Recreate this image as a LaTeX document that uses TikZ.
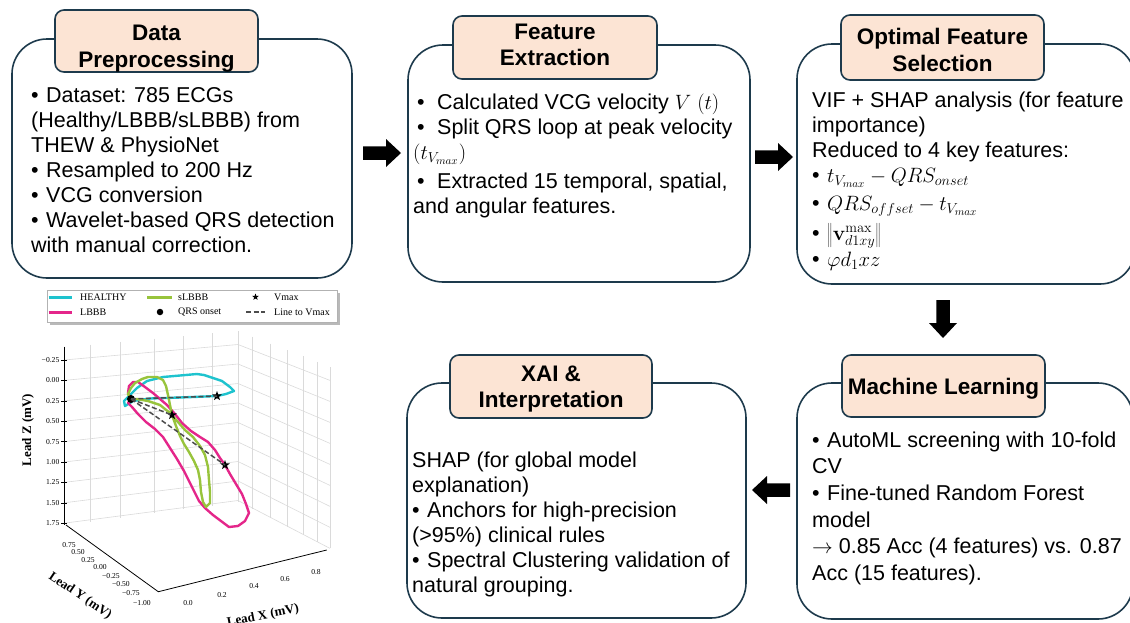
\documentclass[tikz,border=0pt]{standalone}
\usepackage[no-math]{fontspec}
\setmainfont{Liberation Sans}
\newfontfamily\plotserif{Liberation Serif}
\usetikzlibrary{shapes.geometric,calc}
\definecolor{edge}{HTML}{1D3A4C}
\definecolor{peach}{HTML}{FCE4D4}
\definecolor{healthy}{HTML}{1EC3CE}
\definecolor{lbbb}{HTML}{E4268A}
\definecolor{slbbb}{HTML}{98C43C}
\definecolor{gridc}{HTML}{DADADA}
\newcommand{\mybul}{\makebox[15pt][l]{•}}
\newcommand{\mybulb}{\makebox[24pt][l]{\hspace{4pt}•}}
\tikzset{
  outerbox/.style={draw=edge, line width=1.6pt, rounded corners=35pt, fill=white, inner sep=0pt},
  headbox/.style={draw=edge, line width=1.6pt, rounded corners=9pt, fill=peach, inner sep=0pt},
  headtext/.style={anchor=north, inner sep=0pt, align=center, font=\bfseries\fontsize{22.5}{26.5}\selectfont},
  bodytext/.style={anchor=north west, inner sep=0pt, align=left, font=\fontsize{21.5}{25}\selectfont},
  blockarrow/.pic={\fill[black] (-19,-6.75) -- (4,-6.75) -- (4,-14) -- (19,0) -- (4,14) -- (4,6.75) -- (-19,6.75) -- cycle;},
  gridline/.style={gridc, line width=0.6pt},
  axisline/.style={black, line width=0.8pt},
  curve/.style={line width=2.4pt, line join=round, line cap=round},
  dashline/.style={black!70, line width=1.5pt, dash pattern=on 5pt off 2.5pt},
  starmark/.style={star, star points=5, star point ratio=2.4, fill=black, inner sep=0pt, minimum size=#1},
  starmark/.default=10pt,
  legtext/.style={anchor=west, inner sep=0pt, font=\plotserif\fontsize{10}{12}\selectfont},
  ticklab/.style={inner sep=0pt, font=\plotserif\fontsize{7.6}{9}\selectfont},
  axlab/.style={inner sep=0pt, font=\plotserif\bfseries\fontsize{13}{16}\selectfont}
}
\begin{document}
\lineskiplimit=-100pt\relax
\begin{tikzpicture}[x=1pt,y=-1pt]
\useasboundingbox (0,0) rectangle (1130,622);
\clip (0,0) rectangle (1130,622);

% ---------- outer boxes ----------
\node[outerbox, minimum width=340pt, minimum height=239pt] (b1) at (182,158.5) {};
\node[outerbox, minimum width=342pt, minimum height=237pt] (b2) at (579,163.5) {};
\node[outerbox, minimum width=338pt, minimum height=240pt] (b3) at (966,164) {};
\node[outerbox, minimum width=336pt, minimum height=236pt] (b4) at (965,501) {};
\node[outerbox, minimum width=339pt, minimum height=235pt] (b5) at (576.5,500.5) {};

% ---------- header boxes ----------
\node[headbox, minimum width=203pt, minimum height=62pt] (h1) at (156.5,41) {};
\node[headbox, minimum width=204pt, minimum height=63pt] (h2) at (555,47.5) {};
\node[headbox, minimum width=203pt, minimum height=65pt] (h3) at (942.5,47.5) {};
\node[headbox, minimum width=203pt, minimum height=62pt] (h4) at (943.5,386) {};
\node[headbox, minimum width=202pt, minimum height=63pt] (h5) at (551,386.5) {};

\node[headtext] (t1) at (156.5,22) {\strut Data\\Preprocessing};
\node[headtext] (t2) at (555,20.5) {\strut Feature\\Extraction};
\node[headtext] (t3) at (942.5,26) {\strut Optimal Feature\\Selection};
\node[headtext] (t4) at (943.5,375.5) {\strut Machine Learning};
\node[headtext] (t5) at (551,362.5) {\strut XAI \&\\Interpretation};

% ---------- body texts ----------
\node[bodytext] (x1) at (31,84.5) {\strut\mybul Dataset: 785 ECGs\\
(Healthy/LBBB/sLBBB) from\\
THEW \& PhysioNet\\
\mybul Resampled to 200 Hz\\
\mybul VCG conversion\\
\mybul Wavelet-based QRS detection\\
with manual correction.};

\node[bodytext] (x2) at (413,91.5) {\strut\mybulb Calculated VCG velocity $V\ (t)$\\
\mybulb Split QRS loop at peak velocity\\
$(t_{V_{max}})$\\[4pt]
\mybulb Extracted 15 temporal, spatial,\\
and angular features.};

\node[bodytext] (x3) at (812,89.5) {\strut VIF + SHAP analysis (for feature\\
importance)\\
Reduced to 4 key features:\\
\mybul $t_{V_{max}} - QRS_{onset}$\\[3pt]
\mybul $QRS_{offset} - t_{V_{max}}$\\[5pt]
\mybul $\left\|\mathbf{v}^{\max}_{d1xy}\right\|$\\[1pt]
\mybul $\varphi d_1 xz$};

\node[bodytext] (x4) at (812,429.5) {\strut\mybul AutoML screening with 10-fold\\[1.6pt]
CV\\[1.6pt]
\mybul Fine-tuned Random Forest\\[1.6pt]
model\\[1.6pt]
$\rightarrow$ 0.85 Acc (4 features) vs. 0.87\\[1.6pt]
Acc (15 features).};

\node[bodytext] (x5) at (412,449.5) {\strut SHAP (for global model\\
explanation)\\
\mybul Anchors for high-precision\\
(>95\%) clinical rules\\
\mybul Spectral Clustering validation of\\
natural grouping.};

% ---------- block arrows ----------
\pic (a1) at (382,153) {blockarrow};
\pic (a2) at (774,157) {blockarrow};
\pic[rotate=-90] (a3) at (943,319) {blockarrow};
\pic[rotate=180] (a4) at (771,490) {blockarrow};

% ---------- 3D plot: panes grid ----------
\foreach \z in {-0.25,0,0.25,0.5,0.75,1,1.25,1.5,1.75}{
  \draw[gridline] (64,{380.4+81.6*\z}) -- (238,{364+78*\z}) -- (330,{401.4+84*\z});
}
\foreach \xa/\ya/\yb in {90/344.6/521.8, 120/341.9/517.8, 154/338.7/513.2, 183/336.1/509.4, 212/333.4/505.5, 238/331/502}{
  \draw[gridline] (\xa,\ya) -- (\xa,\yb);
}
\foreach \xa/\ya/\yb in {252/336.5/509, 270/343.5/518, 287/350.2/526.5, 303/356.4/534.5, 317/361.9/541.5, 330/367/548}{
  \draw[gridline] (\xa,\ya) -- (\xa,\yb);
}

% axes
\draw[axisline] (64,346.7) -- (64,525);
\draw[axisline] (66,525) -- (158.3,591.7) -- (326.7,550);
\foreach \lab/\yy [count=\i] in {−0.25/360, 0.00/380.4, 0.25/400.8, 0.50/421.2, 0.75/441.6, 1.00/462, 1.25/482.4, 1.50/502.8, 1.75/523.2}{
  \draw[axisline, line width=0.6pt] (61,\yy) -- (67,\yy);
  \node[ticklab, anchor=east] (zt\i) at (59.5,\yy) {\lab};
}
\foreach \lab/\xx/\yy [count=\i] in {0.75/69/545, 0.50/78/552, 0.25/88/560, 0.00/100/567, −0.25/111/576, −0.50/121/584, −0.75/131/593, −1.00/142/603}{
  \node[ticklab] (yt\i) at (\xx,\yy) {\lab};
}
\foreach \lab/\xx/\yy [count=\i] in {0.0/188/603, 0.2/222/595, 0.4/254/586.5, 0.6/285/579, 0.8/316/572}{
  \node[ticklab] (xt\i) at (\xx,\yy) {\lab};
}
\node[axlab, rotate=90] (zlab) at (28,430) {Lead Z (mV)};
\node[axlab, rotate=-34] (ylab) at (80,596) {Lead Y (mV)};
\node[axlab, rotate=11] (xlab) at (263,616) {Lead X (mV)};

% curves
\draw[curve, healthy] (125,406) -- (124,401) -- (129,396) -- (137,388) -- (147,381) -- (163,377) -- (180,375.5) -- (197,374) -- (204,375) -- (213,378) -- (222,381) -- (230,387) -- (234,391) -- (226,394) -- (217,396) -- (180,397.5) -- (150,398.5) -- (133,401) -- cycle;
\draw[curve, lbbb] (131,399) -- (128,393) -- (129,386) -- (133,382) -- (138,382) -- (145,387) -- (153,393) -- (160,399) -- (167,405) -- (175,414) -- (182,423) -- (191,431) -- (200,437) -- (208,442) -- (215,450) -- (220,458) -- (225,465) -- (230,474) -- (236,484) -- (242,494) -- (246,504) -- (249,513) -- (245,521) -- (238,526) -- (229,527) -- (221,521) -- (213,515) -- (205,508) -- (199,501) -- (195,493) -- (190,483) -- (184,471) -- (177,459) -- (170,448) -- (163,437) -- (155,429) -- (146,422) -- (138,414) -- (132,407) -- (128,403) -- cycle;
\draw[curve, slbbb] (131,399) -- (128,394) -- (131,388) -- (135,383) -- (142,379) -- (148,377) -- (157,377) -- (163,380) -- (166,386) -- (168,395) -- (170,405) -- (172,415) -- (176,426) -- (180,436) -- (184,444) -- (189,452) -- (194,461) -- (198,470) -- (200,480) -- (201,492) -- (203,502) -- (206,507) -- (210,503) -- (210,492) -- (209,480) -- (208,467) -- (205,455) -- (200,446) -- (193,437) -- (185,430) -- (178,422) -- (170,413) -- (160,405) -- (148,401) -- (137,399) -- cycle;

% markers
\node[circle, fill=black, inner sep=0pt, minimum size=8pt] (onset) at (131,399) {};
\node[starmark] (vh) at (217,396) {};
\node[starmark] (vs) at (172,415) {};
\node[starmark] (vl) at (225,465) {};
\draw[dashline] (onset.center) -- (vh.center);
\draw[dashline] (onset.center) -- (vs.center);
\draw[dashline] (onset.center) -- (vl.center);

% legend
\fill[gray!55] (49.5,292.5) rectangle (339.5,324.5);
\node[draw=gray!60, fill=white, minimum width=290pt, minimum height=32pt, inner sep=0pt, line width=0.6pt] (leg) at (192,306) {};
\draw[healthy, line width=3pt] (48.5,297) -- (72,297);
\node[legtext] (lg1) at (80,297) {HEALTHY};
\draw[lbbb, line width=3pt] (48.5,312) -- (72,312);
\node[legtext] (lg2) at (80,312) {LBBB};
\draw[slbbb, line width=3pt] (147,297) -- (172,297);
\node[legtext] (lg3) at (178,297) {sLBBB};
\node[circle, fill=black, inner sep=0pt, minimum size=6.5pt] (lgdot) at (160,312) {};
\node[legtext] (lg4) at (178,312) {QRS onset};
\node[starmark=7pt] (lgstar) at (255.5,297) {};
\node[legtext] (lg5) at (274,297) {Vmax};
\coordinate (lgd1) at (246,312);
\coordinate (lgd2) at (265,312);
\draw[dashline] (lgd1) -- (lgd2);
\node[legtext] (lg6) at (274,312) {Line to Vmax};
\end{tikzpicture}
\end{document}
